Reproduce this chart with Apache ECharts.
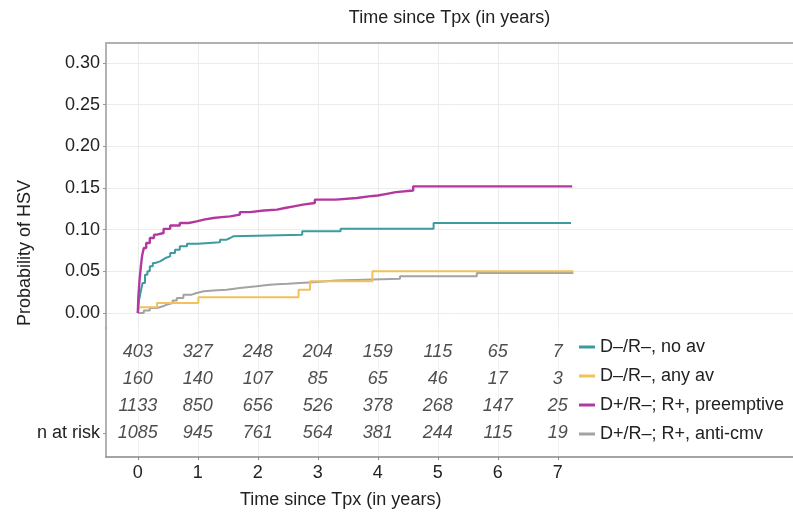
<!DOCTYPE html>
<html>
<head>
<meta charset="utf-8">
<script src="https://cdn.jsdelivr.net/npm/echarts@6/dist/echarts.min.js"></script>
<style>
  html, body { margin: 0; padding: 0; background: #fff; }
  #chart { width: 793px; height: 513px; }
</style>
</head>
<body>
<div id="chart"></div>
<script>
// cumulative incidence, step points (time in years, probability)
var noAvT = [0, 0.02, 0.05, 0.08, 0.12, 0.16, 0.2, 0.25, 0.29, 0.37, 0.42, 0.46, 0.54, 0.62, 0.7, 0.82, 1.0, 1.37, 1.48, 1.54, 1.59, 2.74, 3.38, 4.93, 7.22];
var noAvV = [0, 0.015, 0.026, 0.036, 0.046, 0.05, 0.056, 0.06, 0.062, 0.064, 0.066, 0.068, 0.072, 0.076, 0.08, 0.083, 0.085, 0.088, 0.09, 0.092, 0.094, 0.098, 0.101, 0.108, 0.108];

var anyAvT = [0, 0.03, 0.32, 1.01, 2.68, 2.87, 3.91, 7.26];
var anyAvV = [0, 0.007, 0.012, 0.019, 0.028, 0.038, 0.05, 0.05];

var preT = [0, 0.01, 0.02, 0.03, 0.05, 0.07, 0.1, 0.14, 0.2, 0.27, 0.32, 0.43, 0.54, 0.7, 0.85, 0.98, 1.1, 1.26, 1.4, 1.54, 1.7, 1.87, 2.1, 2.32, 2.45, 2.6, 2.75, 2.95, 3.3, 3.65, 3.85, 4.0, 4.15, 4.3, 4.59, 7.24];
var preV = [0, 0.02, 0.03, 0.04, 0.055, 0.068, 0.078, 0.084, 0.09, 0.094, 0.096, 0.101, 0.105, 0.108, 0.11, 0.112, 0.114, 0.115, 0.116, 0.118, 0.121, 0.123, 0.124, 0.126, 0.128, 0.13, 0.132, 0.136, 0.138, 0.14, 0.141, 0.143, 0.145, 0.147, 0.152, 0.152];

var cmvT = [0, 0.1, 0.2, 0.32, 0.42, 0.48, 0.58, 0.65, 0.76, 0.9, 0.98, 1.1, 1.26, 1.48, 1.7, 1.98, 2.2, 2.32, 2.5, 2.7, 2.93, 3.3, 3.76, 4.37, 5.65, 7.26];
var cmvV = [0, 0.003, 0.006, 0.008, 0.01, 0.012, 0.015, 0.018, 0.022, 0.024, 0.026, 0.027, 0.028, 0.03, 0.032, 0.034, 0.0345, 0.035, 0.036, 0.037, 0.039, 0.04, 0.041, 0.044, 0.048, 0.048];

// number at risk table
var riskTimes = [0, 1, 2, 3, 4, 5, 6, 7];
var riskNoAv = [403, 327, 248, 204, 159, 115, 65, 7];
var riskAnyAv = [160, 140, 107, 85, 65, 46, 17, 3];
var riskPre = [1133, 850, 656, 526, 378, 268, 147, 25];
var riskCmv = [1085, 945, 761, 564, 381, 244, 115, 19];

var groupNames = ['D\u2013/R\u2013, no av', 'D\u2013/R\u2013, any av', 'D+/R\u2013; R+, preemptive', 'D+/R\u2013; R+, anti-cmv'];
var groupColors = ['#3d9ba0', '#f2c15a', '#b3389e', '#a3a3a3'];

var yTicks = [0, 0.05, 0.10, 0.15, 0.20, 0.25, 0.30];
var xTicks = [0, 1, 2, 3, 4, 5, 6, 7];

var FONT = '"Liberation Sans", Arial, sans-serif';

function zip(t, v) {
  var out = [];
  for (var i = 0; i < t.length; i++) out.push([t[i], v[i]]);
  return out;
}

function riskRow(counts, row) {
  var out = [];
  for (var i = 0; i < riskTimes.length; i++) out.push([riskTimes[i], row, counts[i]]);
  return out;
}

var curves = [zip(noAvT, noAvV), zip(anyAvT, anyAvV), zip(preT, preV), zip(cmvT, cmvV)];
var risks = [riskNoAv, riskAnyAv, riskPre, riskCmv];

var series = [];
for (var g = 0; g < 4; g++) {
  series.push({
    name: groupNames[g],
    type: 'line',
    step: 'end',
    xAxisIndex: 0,
    yAxisIndex: 0,
    data: curves[g],
    showSymbol: false,
    symbol: 'none',
    lineStyle: { color: groupColors[g], width: g === 2 ? 2.4 : 2 },
    itemStyle: { color: groupColors[g] },
    z: g === 3 ? 3 : 4
  });
}
for (var r = 0; r < 4; r++) {
  series.push({
    name: 'risk' + r,
    type: 'scatter',
    xAxisIndex: 1,
    yAxisIndex: 1,
    symbolSize: 0,
    data: riskRow(risks[r], 4 - r),
    label: {
      show: true,
      position: 'inside',
      formatter: function (p) { return String(p.value[2]); },
      fontFamily: FONT,
      fontSize: 18,
      fontStyle: 'italic',
      color: '#222'
    }
  });
}

var chart = echarts.init(document.getElementById('chart'));
chart.setOption({
  backgroundColor: '#fff',
  animation: false,
  textStyle: { fontFamily: FONT },
  grid: [
    { left: 106, top: 43, right: 0, height: 285 },
    { left: 106, top: 328, right: 0, bottom: 56 }
  ],
  xAxis: [
    {
      gridIndex: 0,
      type: 'value',
      position: 'top',
      min: -0.53,
      max: 10.92,
      name: 'Time since Tpx (in years)',
      nameLocation: 'middle',
      nameGap: 16,
      nameTextStyle: { fontSize: 18, color: '#222', verticalAlign: 'bottom' },
      axisLine: { show: true, onZero: false, lineStyle: { color: '#b0b0b0', width: 2 } },
      axisTick: { show: false, customValues: xTicks },
      axisLabel: { show: false, customValues: xTicks },
      splitLine: { show: true, lineStyle: { color: '#ececec', width: 1 } }
    },
    {
      gridIndex: 1,
      type: 'value',
      position: 'bottom',
      min: -0.53,
      max: 10.92,
      axisLine: { show: true, onZero: false, lineStyle: { color: '#888', width: 1.5 } },
      axisTick: { show: true, length: 3, customValues: xTicks, lineStyle: { color: '#888' } },
      axisLabel: { show: true, customValues: xTicks, fontSize: 18, color: '#222', margin: 7 },
      splitLine: { show: true, lineStyle: { color: '#f2f2f2', width: 1 } }
    }
  ],
  yAxis: [
    {
      gridIndex: 0,
      type: 'value',
      min: -0.018,
      max: 0.324,
      axisLine: { show: true, onZero: false, lineStyle: { color: '#999', width: 1.5 } },
      axisTick: { show: true, length: 3, customValues: yTicks, lineStyle: { color: '#999' } },
      axisLabel: {
        customValues: yTicks,
        fontSize: 18,
        color: '#222',
        margin: 6,
        formatter: function (v) { return v.toFixed(2); }
      },
      splitLine: { show: true, lineStyle: { color: '#ececec', width: 1 } }
    },
    {
      gridIndex: 1,
      type: 'value',
      min: 0.111,
      max: 4.889,
      axisLine: { show: true, onZero: false, lineStyle: { color: '#999', width: 1.5 } },
      axisTick: { show: true, length: 3, customValues: [1], lineStyle: { color: '#999' } },
      axisLabel: {
        customValues: [1],
        fontSize: 18,
        color: '#222',
        margin: 6,
        formatter: function () { return 'n at risk'; }
      },
      splitLine: { show: false }
    }
  ],
  legend: {
    data: groupNames,
    orient: 'vertical',
    left: 579,
    top: 337,
    padding: 0,
    itemGap: 9,
    itemWidth: 16,
    itemHeight: 3,
    icon: 'rect',
    textStyle: { fontSize: 18, color: '#222', lineHeight: 20, fontFamily: FONT },
    selectedMode: false
  },
  graphic: [
    {
      type: 'text',
      left: 240,
      top: 491,
      style: { text: 'Time since Tpx (in years)', font: '18px ' + FONT, fill: '#222' }
    },
    {
      type: 'text',
      rotation: Math.PI / 2,
      x: 16,
      y: 326,
      style: { text: 'Probability of HSV', font: '18px ' + FONT, fill: '#222' }
    }
  ],
  series: series
});
</script>
</body>
</html>
